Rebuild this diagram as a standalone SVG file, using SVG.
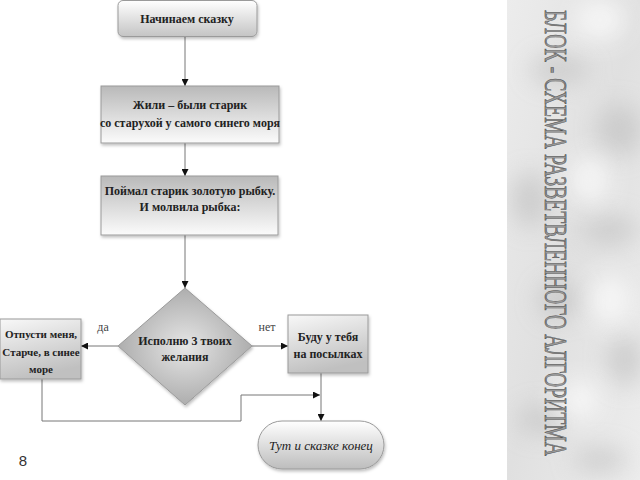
<svg xmlns="http://www.w3.org/2000/svg" width="640" height="480" viewBox="0 0 640 480">
<defs>
  <linearGradient id="gTop" x1="0" y1="0" x2="0" y2="1">
    <stop offset="0" stop-color="#ffffff"/>
    <stop offset="1" stop-color="#c4c4c4"/>
  </linearGradient>
  <linearGradient id="gBox" x1="0" y1="0" x2="0" y2="1">
    <stop offset="0" stop-color="#b9b9b9"/>
    <stop offset="1" stop-color="#fbfbfb"/>
  </linearGradient>
  <linearGradient id="gSide" x1="0" y1="0" x2="0.3" y2="1">
    <stop offset="0" stop-color="#f8f8f8"/>
    <stop offset="1" stop-color="#c0c0c0"/>
  </linearGradient>
  <radialGradient id="gDia" cx="0.5" cy="0.5" r="0.6">
    <stop offset="0" stop-color="#e6e6e6"/>
    <stop offset="1" stop-color="#a2a2a2"/>
  </radialGradient>
  <linearGradient id="gOval" x1="0" y1="0" x2="0" y2="1">
    <stop offset="0" stop-color="#ffffff"/>
    <stop offset="1" stop-color="#bdbdbd"/>
  </linearGradient>
  <linearGradient id="gMarble" x1="0" y1="0" x2="1" y2="1">
    <stop offset="0" stop-color="#ececec"/>
    <stop offset="0.5" stop-color="#e0e0e0"/>
    <stop offset="1" stop-color="#ededed"/>
  </linearGradient>
  <filter id="blur" x="-50%" y="-50%" width="200%" height="200%">
    <feGaussianBlur stdDeviation="12"/>
  </filter>
  <filter id="shadow" x="-10%" y="-10%" width="130%" height="140%">
    <feDropShadow dx="1" dy="2" stdDeviation="1.5" flood-color="#000" flood-opacity="0.25"/>
  </filter>
  <clipPath id="marbleClip"><rect x="507" y="0" width="133" height="480"/></clipPath>
  <marker id="arr" viewBox="0 0 10 10" refX="10" refY="5" markerWidth="7" markerHeight="7" markerUnits="userSpaceOnUse" orient="auto">
    <path d="M0,0 L10,5 L0,10 z" fill="#111"/>
  </marker>
</defs>
<style>
  .box { stroke: #9a9a9a; stroke-width: 1; filter: url(#shadow); }
  .t { font-family: "Liberation Serif", "DejaVu Serif", serif; font-weight: bold; font-size: 12px; fill: #222; text-anchor: middle; }
  .s { font-size: 11px; }
  .lbl { font-family: "Liberation Serif", "DejaVu Serif", serif; font-size: 12px; fill: #444; text-anchor: middle; }
  .c { fill: none; stroke: #777; stroke-width: 1; }
</style>
<rect width="640" height="480" fill="#ffffff"/>

<!-- marble panel -->
<g clip-path="url(#marbleClip)">
  <rect x="507" y="0" width="133" height="480" fill="url(#gMarble)"/>
  <g filter="url(#blur)" fill="#c2c2c2" opacity="0.7">
    <ellipse cx="560" cy="70" rx="30" ry="14"/>
    <ellipse cx="620" cy="130" rx="22" ry="26"/>
    <ellipse cx="530" cy="200" rx="18" ry="28"/>
    <ellipse cx="610" cy="230" rx="28" ry="14"/>
    <ellipse cx="560" cy="300" rx="22" ry="18"/>
    <ellipse cx="625" cy="360" rx="18" ry="26"/>
    <ellipse cx="540" cy="420" rx="22" ry="14"/>
    <ellipse cx="600" cy="460" rx="28" ry="12"/>
  </g>
  <g filter="url(#blur)" fill="#f8f8f8" opacity="0.9">
    <ellipse cx="600" cy="20" rx="25" ry="20"/>
    <ellipse cx="590" cy="180" rx="20" ry="25"/>
    <ellipse cx="610" cy="300" rx="20" ry="25"/>
    <ellipse cx="580" cy="400" rx="20" ry="20"/>
  </g>
</g>
<text transform="translate(545,10) scale(1.6,1)" x="0" y="0" style="writing-mode: vertical-rl; text-orientation: sideways;" font-family="'Liberation Serif', 'DejaVu Serif', serif" font-size="20" fill="#9a9a9a" stroke="#505050" stroke-width="0.4" textLength="446" lengthAdjust="spacingAndGlyphs">БЛОК - СХЕМА  РАЗВЕТВЛЕННОГО АЛГОРИТМА</text>

<!-- connectors -->
<g id="connectors">
  <line class="c" x1="185" y1="37" x2="185" y2="86" marker-end="url(#arr)"/>
  <line class="c" x1="185" y1="143" x2="185" y2="176" marker-end="url(#arr)"/>
  <line class="c" x1="185" y1="235" x2="185" y2="288" marker-end="url(#arr)"/>
  <line class="c" x1="118" y1="346" x2="81" y2="346" marker-end="url(#arr)"/>
  <line class="c" x1="252" y1="346" x2="288" y2="346" marker-end="url(#arr)"/>
  <line class="c" x1="321" y1="373" x2="321" y2="421" marker-end="url(#arr)"/>
  <polyline class="c" points="42,379 42,421 241,421 241,395 320,395" marker-end="url(#arr)"/>
  <text class="lbl" x="103" y="331">да</text>
  <text class="lbl" x="267" y="331">нет</text>
</g>

<g id="start">
  <rect class="box" x="118" y="0.5" width="139" height="36" rx="5" fill="url(#gTop)"/>
  <text class="t" x="187" y="23">Начинаем сказку</text>
</g>

<g id="box2">
  <rect class="box" x="101" y="86" width="178" height="57" fill="url(#gBox)"/>
  <text class="t" x="190" y="109">Жили – были старик</text>
  <text class="t" x="190" y="127">со старухой у самого синего моря</text>
</g>

<g id="box3">
  <rect class="box" x="101" y="176" width="177" height="59" fill="url(#gBox)"/>
  <text class="t" x="190" y="195">Поймал старик золотую рыбку.</text>
  <text class="t" x="190" y="211">И молвила рыбка:</text>
</g>

<g id="decision">
  <polygon class="box" points="185,288 252,346 185,405 118,346" fill="url(#gDia)"/>
  <text class="t" x="185" y="345">Исполню 3 твоих</text>
  <text class="t" x="185" y="361">желания</text>
</g>

<g id="left">
  <rect class="box" x="0" y="319" width="81" height="60" fill="url(#gSide)"/>
  <text class="t s" x="41" y="338">Отпусти  меня,</text>
  <text class="t s" x="41" y="356">Старче, в синее</text>
  <text class="t s" x="41" y="373">море</text>
</g>

<g id="right">
  <rect class="box" x="288" y="315" width="80" height="58" fill="url(#gSide)"/>
  <text class="t" x="328" y="341">Буду у тебя</text>
  <text class="t" x="328" y="358">на посылках</text>
</g>

<g id="end">
  <rect class="box" x="258" y="421" width="126" height="48" rx="24" fill="url(#gOval)"/>
  <text x="321" y="450" font-family="'Liberation Serif', 'DejaVu Serif', serif" font-style="italic" font-size="13" fill="#222" text-anchor="middle">Тут  и  сказке конец</text>
</g>

<text x="23" y="466" font-family="'Liberation Sans', Arial, sans-serif" font-size="15" fill="#333" text-anchor="middle">8</text>
</svg>
